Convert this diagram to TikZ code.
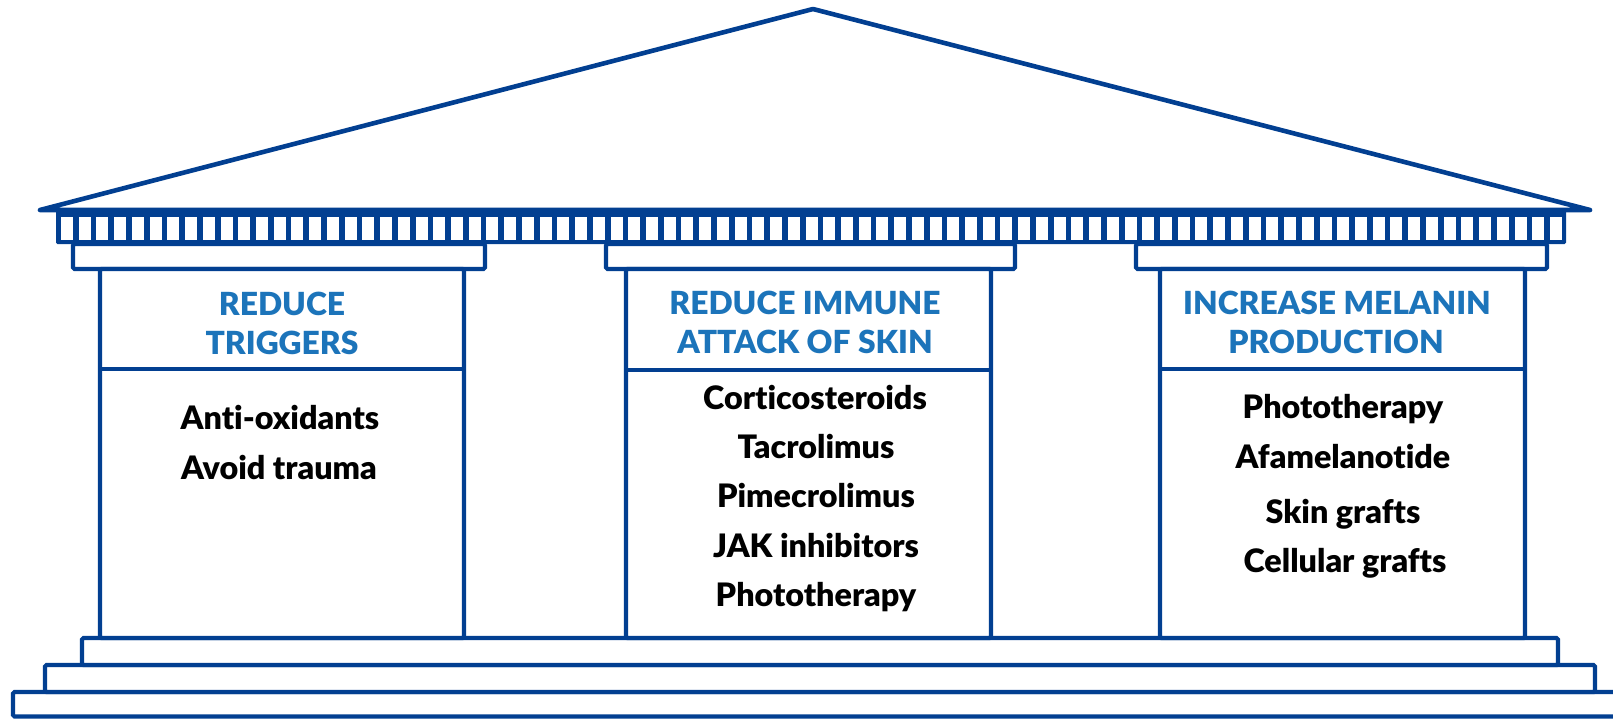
\documentclass[tikz,border=0pt]{standalone}
\usepackage{fontspec}
\setmainfont{Lato}[BoldFont={Lato Black},Ligatures=NoCommon]
\definecolor{lineblue}{HTML}{023F91}
\definecolor{headblue}{HTML}{1C74BA}
\begin{document}
\begin{tikzpicture}[x=1pt,y=-1pt,
  outline/.style={draw=lineblue,line width=4.2pt,rounded corners=1.5pt,fill=white},
  head/.style={anchor=base,text=headblue,font=\bfseries\fontsize{31.8}{32}\selectfont,inner sep=0pt,yshift=-1.5pt},
  item/.style={anchor=base,text=black,font=\bfseries\fontsize{32.3}{32}\selectfont,inner sep=0pt,yshift=-1.5pt}]
\useasboundingbox (0,0) rectangle (1613,718);
\begin{scope}
\clip (0,0) rectangle (1613,718);
% steps
\draw[outline] (13,692) rectangle (1640,716.5);
\draw[outline] (45,665) rectangle (1595,692);
\draw[outline] (82,638) rectangle (1558,665);
\end{scope}
% roof
\draw[lineblue,line width=4.6pt,line join=round,line cap=round] (40,210) -- (813,9) -- (1590,210) -- cycle;
% frieze
\fill[lineblue,rounded corners=1.5pt] (56,208) rectangle (1566,244);
\foreach \i in {0,...,84}{
  \fill[white] ({61+\i*17.726},217) rectangle ({73+\i*17.726},239.5);
}
% capitals
\draw[outline] (73,244) rectangle (485,269);
\draw[outline] (606,244) rectangle (1015,269);
\draw[outline] (1136,244) rectangle (1547,269);
% columns
\draw[outline] (100,269) rectangle (464,638);
\draw[outline] (626,269) rectangle (991,638);
\draw[outline] (1160,269) rectangle (1525,638);
\draw[lineblue,line width=4.2pt] (100,369) -- (464,369);
\draw[lineblue,line width=4.2pt] (626,370) -- (991,370);
\draw[lineblue,line width=4.2pt] (1160,369) -- (1525,369);
% texts left
\node[head] (h1a) at (282,314) {REDUCE};
\node[head] (h1b) at (282,353) {TRIGGERS};
\node[item] (l1) at (280,428) {Anti-oxidants};
\node[item] (l2) at (279,478) {Avoid trauma};
% middle
\node[head] (h2a) at (805,313) {REDUCE IMMUNE};
\node[head] (h2b) at (805,352) {ATTACK OF SKIN};
\node[item] (m1) at (815,408) {Corticosteroids};
\node[item] (m2) at (816,457) {Tacrolimus};
\node[item] (m3) at (816,506) {Pimecrolimus};
\node[item] (m4) at (816,556) {JAK inhibitors};
\node[item] (m5) at (816,605) {Phototherapy};
% right
\node[head] (h3a) at (1337,313) {INCREASE MELANIN};
\node[head] (h3b) at (1336,352) {PRODUCTION};
\node[item] (r1) at (1343,417) {Phototherapy};
\node[item] (r2) at (1343,467) {Afamelanotide};
\node[item] (r3) at (1343,522) {Skin grafts};
\node[item] (r4) at (1345,571) {Cellular grafts};
\end{tikzpicture}
\end{document}
